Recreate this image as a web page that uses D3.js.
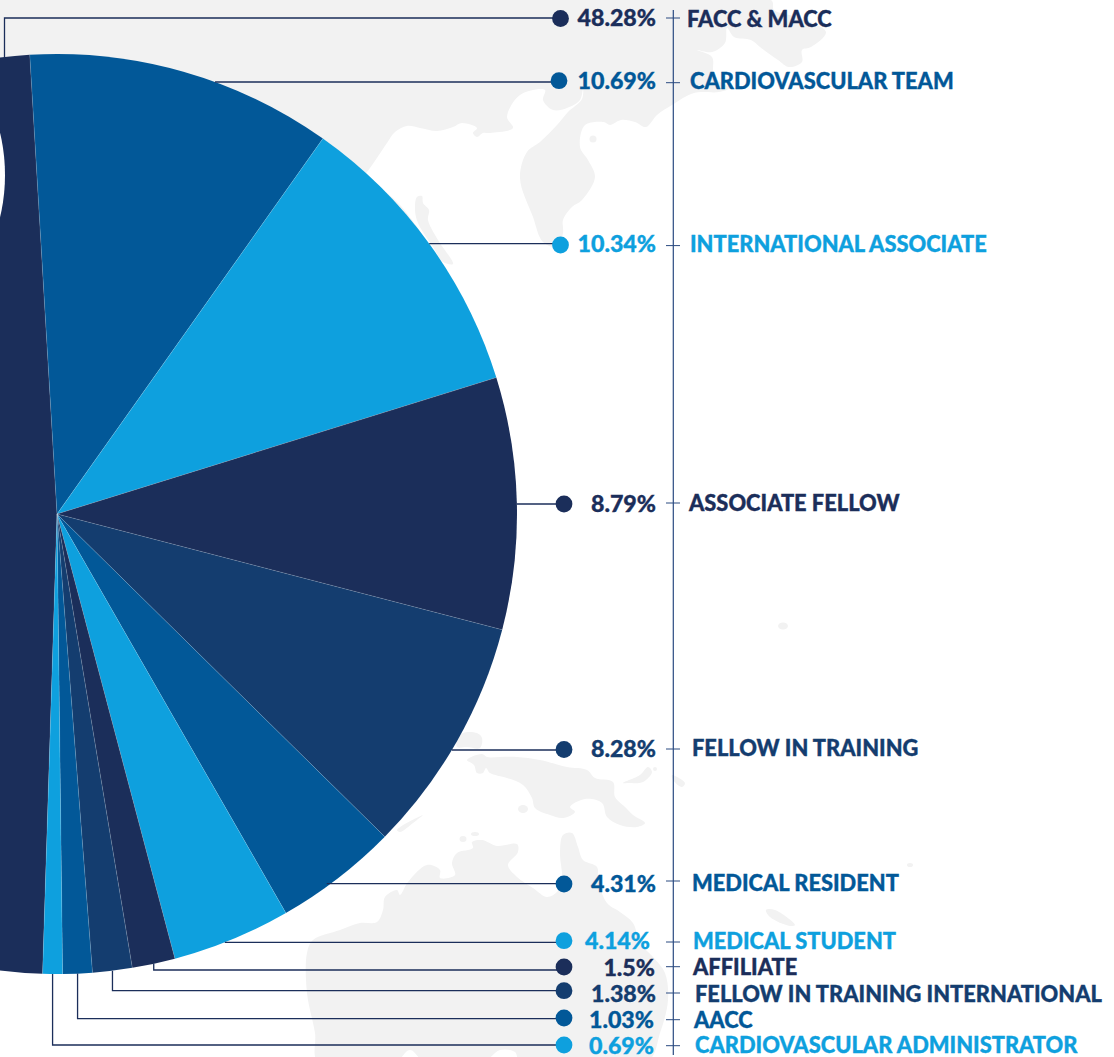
<!DOCTYPE html>
<html lang="en">
<head>
    <meta charset="UTF-8">
    <title>Member types</title>
    <style>
        html, body { margin: 0; padding: 0; background: #fff; overflow: hidden; }
        text { font-family: Lato, sans-serif; font-weight: 900; stroke-width: 0.35; paint-order: stroke; }
    </style>
</head>

<body>
    <div id="graph"></div>
    <script src="https://d3js.org/d3.v7.min.js"></script>

    <script>
        // Data
        const CATEGORIES = ["FACC & MACC", "CARDIOVASCULAR TEAM", "INTERNATIONAL ASSOCIATE", "ASSOCIATE FELLOW",
            "FELLOW IN TRAINING", "MEDICAL RESIDENT", "MEDICAL STUDENT", "AFFILIATE",
            "FELLOW IN TRAINING INTERNATIONAL", "AACC", "CARDIOVASCULAR ADMINISTRATOR"];
        const VALUES = [48.28, 10.69, 10.34, 8.79, 8.28, 4.31, 4.14, 1.5, 1.38, 1.03, 0.69];

        // Layout
        const WIDTH = 1114, HEIGHT = 1057;
        const CX = 57, CY = 514, R = 460;
        const NAVY = "#1b2e5a", BLUE = "#025898", SKY = "#0ea0de", DEEP = "#143d6f";
        const COLORS = [NAVY, BLUE, SKY, NAVY, DEEP, BLUE, SKY, NAVY, DEEP, BLUE, SKY];
        const DOT_X = [560.5, 559, 560.5, 564, 564, 564, 564, 564, 564, 564, 564];
        const DOT_Y = [18.5, 80.7, 245, 504, 749.5, 884, 940.7, 967, 990.7, 1018, 1045];
        const LINE_Y = [18, 82, 243.7, 504, 750, 883.7, 942.3, 970, 990.7, 1018.7, 1045];
        const PCT_RIGHT = [656, 656, 656, 656, 656, 656, 650, 655, 656, 654, 654];
        const PCT_BASE = [26, 89, 252, 512, 757, 892, 949, 976, 1002, 1028, 1054];
        const LABEL_X = [687, 690, 690, 689, 692, 692, 693, 693, 695, 694, 695];
        const LABEL_BASE = [27, 89, 252, 511, 756, 891, 949, 975, 1002, 1028, 1053];
        const TICK_Y = [18, 82.7, 245.6, 503, 749, 881, 942, 966.7, 993, 1019.7, 1045.7];
        const LABEL_SIZE = 21.85, PCT_SIZE = 23.2;

        // Background map, traced by hand
        const ASIA = [[771,0],[774,10],[796,17],[826,32],[811,47],[802,50],[802,62],[789,67],[778,60],[760,47],[751,40],
            [734,37],[727,28],[725,43],[712,52],[697,50],[712,57],[714,77],[729,88],[719,92],[694,93],[672,105],[657,115],
            [646,127],[635,122],[621,120],[610,125],[604,122],[585,125],[580,147],[588,160],[595,177],[582,200],[572,207],
            [563,220],[563,233],[557,247],[543,242],[533,217],[520,178],[527,152],[540,142],[557,125],[568,112],[582,99],
            [583,88],[580,100],[567,108],[553,110],[543,100],[545,90],[520,95],[507,117],[513,128],[490,133],[483,133],
            [477,137],[473,133],[477,128],[462,123],[453,127],[437,131],[420,128],[407,126],[395,132],[387,143],[367,172],
            [300,250],[0,200],[0,0]];
        const HORN = [[417,197],[422,196],[423,203],[429,210],[428,220],[438,240],[453,264],[443,262],[433,247],[418,223],[415,210]];
        const STRIP = [[385,192],[400,205],[422,235],[410,225]];
        const BORNEO = [[457,740],[463,733],[477,733],[482,738],[480,748],[467,747],[457,747]];
        const GUINEA = [[467,760],[482,754],[487,757],[500,757],[517,757],[540,760],[567,767],[587,770],[595,778],[613,782],
            [615,797],[625,807],[633,815],[645,823],[637,827],[620,825],[607,817],[602,803],[585,799],[570,807],[575,812],
            [563,818],[550,815],[535,808],[532,798],[523,785],[507,778],[490,773],[486,768],[483,773],[477,773],[474,765]];
        const BRITAIN = [[623,783],[640,775],[648,767],[652,772],[643,782],[628,783]];
        const ISLET_A = [[672,775],[685,783],[682,787],[673,780]];
        const ISLET_B = [[397,830],[423,815],[413,823],[400,832]];
        const ISLET_C = [[766,910],[775,910],[795,925],[790,926],[770,917]];
        const AUSTRALIA = [[307,953],[313,940],[340,930],[360,923],[377,922],[383,910],[385,897],[397,890],[400,895],[408,882],
            [427,865],[440,870],[440,878],[455,875],[452,863],[457,853],[473,848],[472,842],[482,840],[497,846],[517,844],
            [518,852],[508,865],[517,877],[533,888],[547,897],[557,892],[562,880],[560,853],[563,835],[572,833],[578,847],
            [583,860],[597,867],[598,880],[607,903],[620,912],[633,923],[640,943],[653,957],[665,973],[668,1000],[660,1033],
            [647,1062],[520,1062],[515,1052],[500,1050],[483,1062],[425,1062],[410,1050],[395,1062],[318,1062],[315,1033],[307,993]];
        const DOTS = [[593,139,3.5,3.5],[523,809,5,4],[655,769,2,2],[463,839,3.5,3],[475,834,4,2],[783,626,5,3.5],[910,865,3,2]];

        const svg = d3.select("#graph")
            .append("svg")
            .attr("width", WIDTH)
            .attr("height", HEIGHT)
            .style("display", "block");

        const coast = d3.line().curve(d3.curveCatmullRomClosed.alpha(0.5));
        svg.append("g")
            .attr("fill", "#f2f2f2")
            .selectAll("path")
            .data([ASIA, HORN, STRIP, BORNEO, GUINEA, BRITAIN, ISLET_A, ISLET_B, ISLET_C, AUSTRALIA])
            .join("path")
            .attr("d", coast);
        svg.append("g")
            .attr("fill", "#f2f2f2")
            .selectAll("ellipse")
            .data(DOTS)
            .join("ellipse")
            .attr("cx", d => d[0])
            .attr("cy", d => d[1])
            .attr("rx", d => d[2])
            .attr("ry", d => d[3]);

        // Pie: first slice starts on the left so it ends just before twelve o'clock
        const START = -178.2 * Math.PI / 180;
        const pie = d3.pie().sort(null).startAngle(START).endAngle(START + 2 * Math.PI);
        const arcs = pie(VALUES);
        const arc = d3.arc().innerRadius(0).outerRadius(R);

        const chart = svg.append("g").attr("transform", `translate(${CX}, ${CY})`);
        chart.selectAll("path")
            .data(arcs)
            .join("path")
            .attr("d", arc)
            .attr("fill", (d, i) => COLORS[i]);

        // Hairlines between the slices
        chart.selectAll("line")
            .data(arcs)
            .join("line")
            .attr("x2", d => R * Math.sin(d.startAngle))
            .attr("y2", d => -R * Math.cos(d.startAngle))
            .attr("stroke", "#fff")
            .attr("stroke-opacity", 0.25)
            .attr("stroke-width", 0.6);

        // White notch on the left edge of the big slice
        svg.append("ellipse")
            .attr("cx", -40).attr("cy", 175)
            .attr("rx", 45).attr("ry", 92)
            .attr("fill", "#fff");

        // Leaders: the top one and the last four leave the pie with an elbow
        const edgeX = y => CX + Math.sqrt(R * R - (y - CY) * (y - CY));
        const leader = (d, i) => {
            const y = LINE_Y[i], x2 = DOT_X[i];
            if (i === 0) return `M4.5,58V${y}H${x2}`;
            if (i >= 7) {
                const mid = (d.startAngle + d.endAngle) / 2;
                const x = CX + R * Math.sin(mid);
                const y0 = CY - R * Math.cos(mid);
                return `M${x},${y0}V${y}H${x2}`;
            }
            return `M${edgeX(y) - (i === 5 ? 4 : 0)},${y}H${x2}`;
        };
        svg.append("g")
            .attr("fill", "none")
            .attr("stroke", NAVY)
            .attr("stroke-width", 1.3)
            .selectAll("path")
            .data(arcs)
            .join("path")
            .attr("d", leader);

        svg.append("g")
            .selectAll("circle")
            .data(VALUES)
            .join("circle")
            .attr("cx", (d, i) => DOT_X[i])
            .attr("cy", (d, i) => DOT_Y[i])
            .attr("r", 8.4)
            .attr("fill", (d, i) => COLORS[i]);

        // Percentages
        svg.append("g")
            .attr("text-anchor", "end")
            .attr("font-size", PCT_SIZE)
            .selectAll("text")
            .data(VALUES)
            .join("text")
            .attr("x", (d, i) => PCT_RIGHT[i])
            .attr("y", (d, i) => PCT_BASE[i])
            .attr("fill", (d, i) => COLORS[i])
            .attr("stroke", (d, i) => COLORS[i])
            .text(d => `${d}%`);

        // Divider with its ticks
        svg.append("line")
            .attr("x1", 673.3).attr("x2", 673.3)
            .attr("y1", 10).attr("y2", 1055)
            .attr("stroke", "#2a4a80")
            .attr("stroke-width", 1.2);
        svg.append("g")
            .attr("stroke", "#2a4a80")
            .selectAll("line")
            .data(TICK_Y)
            .join("line")
            .attr("x1", 666).attr("x2", 680)
            .attr("y1", d => d).attr("y2", d => d);

        // Category names
        svg.append("g")
            .attr("font-size", LABEL_SIZE)
            .selectAll("text")
            .data(CATEGORIES)
            .join("text")
            .attr("x", (d, i) => LABEL_X[i])
            .attr("y", (d, i) => LABEL_BASE[i])
            .attr("fill", (d, i) => COLORS[i])
            .attr("stroke", (d, i) => COLORS[i])
            .text(d => d);
    </script>

</body>

</html>
